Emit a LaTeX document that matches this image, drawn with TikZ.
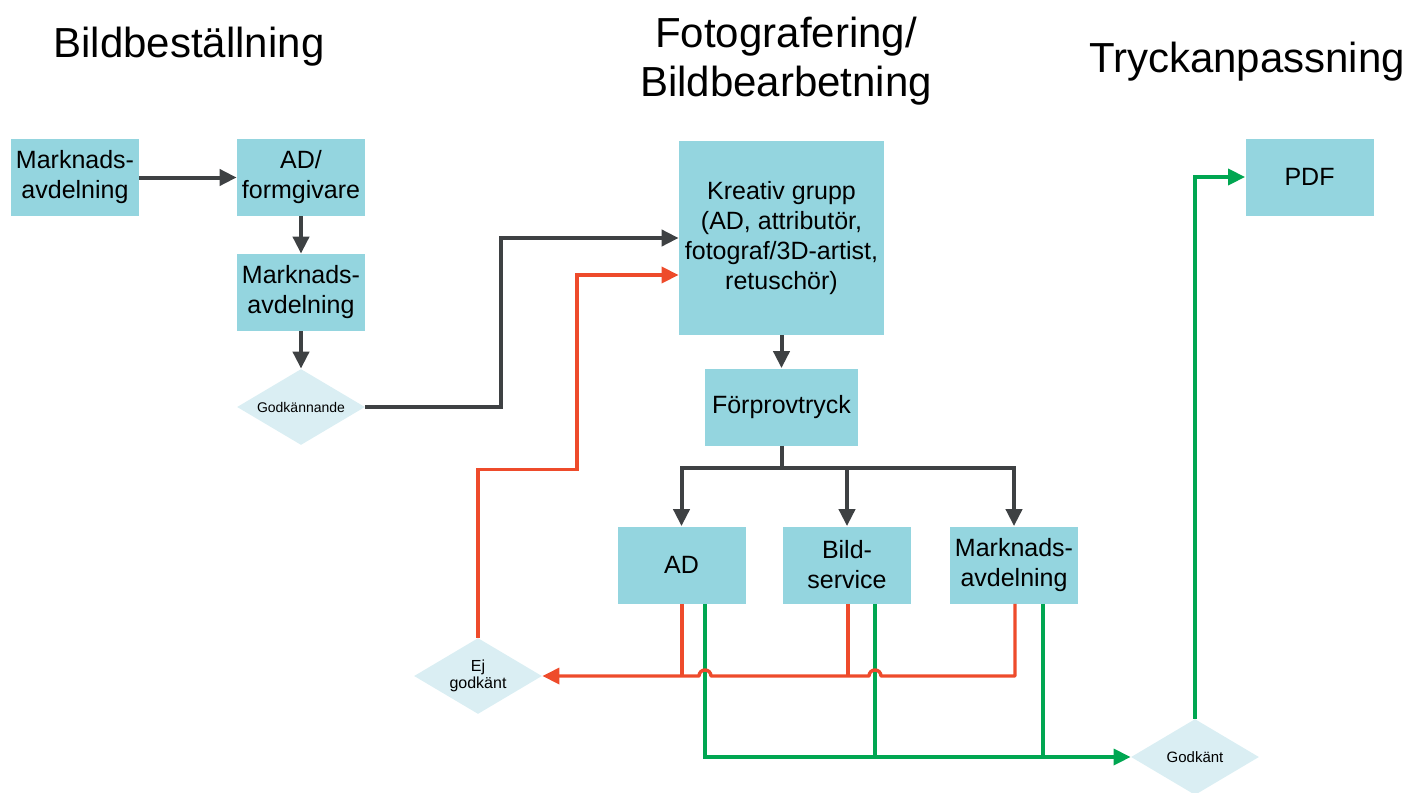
\documentclass[tikz,border=0pt]{standalone}
\usepackage{fontspec}
\setmainfont{Liberation Sans}
\usetikzlibrary{shapes.geometric,arrows.meta,calc}
\definecolor{boxfill}{HTML}{94D5DF}
\definecolor{decfill}{HTML}{DAEEF3}
\definecolor{lnk}{HTML}{3E4143}
\definecolor{rej}{HTML}{EE4B2B}
\definecolor{acc}{HTML}{00A651}

\begin{document}
\begin{tikzpicture}[x=0.5pt,y=-0.5pt,
  box/.style={fill=boxfill, draw=none, inner sep=0pt, minimum width=64pt,
    minimum height=38.5pt, align=center, font=\fontsize{12.5}{15}\selectfont},
  dec/.style={diamond, fill=decfill, draw=none, inner sep=0pt, shape aspect=2.2,
    minimum width=64pt, minimum height=38pt, align=center},
  heading/.style={font=\fontsize{21}{24.5}\selectfont, align=center, inner sep=0pt},
  tip/.style={-{Triangle[length=8.5pt,width=8pt]}},
  darkline/.style={line width=2pt, draw=lnk},
  redline/.style={line width=1.7pt, draw=rej},
  grnline/.style={line width=1.7pt, draw=acc},
]
\useasboundingbox (0,0) rectangle (1416,792);

% column headings
\node[heading, anchor=base] (h1) at (189,58) {Bildbeställning};
\node[heading, anchor=north] (h2) at (786,17) {Fotografering/\\Bildbearbetning};
\node[heading, anchor=base] (h3) at (1247,73) {Tryckanpassning};

% ordering column
\node[box] (mk1) at (75,177.5) {Marknads-\\avdelning};
\node[box] (adf) at (301,177.5) {AD/\\formgivare};
\node[box] (mk2) at (301,292.5) {Marknads-\\avdelning};
\node[dec, font=\fontsize{7}{8}\selectfont] (gdk) at (301,407) {Godkännande};

% photo / retouch column
\node[box, minimum width=102.5pt, minimum height=97pt] (kre) at (781.5,238)
  {Kreativ grupp\\(AD, attributör,\\fotograf/3D-artist,\\retuschör)};
\node[box, minimum width=76.5pt] (fpt) at (781.5,407) {Förprovtryck};
\node[box] (ad) at (681.5,565) {AD};
\node[box] (bsv) at (847,565) {Bild-\\service};
\node[box] (mk3) at (1014,565) {Marknads-\\avdelning};
\node[dec, font=\fontsize{8}{8.5}\selectfont] (ejg) at (478,676) {Ej\\godkänt};

% print column
\node[box] (pdf) at (1309.5,177) {PDF};
\node[dec, font=\fontsize{7.5}{8}\selectfont] (gkt) at (1195,757) {Godkänt};

\coordinate (split) at (781.5,468);

% main flow
\draw[darkline, tip] (mk1) -- (adf);
\draw[darkline, tip] (adf) -- (mk2);
\draw[darkline, tip] (mk2) -- (gdk);
\draw[darkline, tip] (gdk.east) -- ++(136,0) |- (kre.west);
\draw[darkline, tip] (kre) -- (fpt);
\draw[darkline] (fpt.south) -- (split);
\draw[darkline, tip] (split) -| (ad.north);
\draw[darkline, tip] (split) -| (bsv.north);
\draw[darkline, tip] (split) -| (mk3.north);

% approved branch
\draw[grnline, tip] ($(ad.south)+(23.5,0)$) |- (gkt.west);
\draw[grnline] ($(bsv.south)+(28,0)$) -- ($(bsv.south |- gkt.west)+(28,0)$);
\draw[grnline] ($(mk3.south)+(29,0)$) -- ($(mk3.south |- gkt.west)+(29,0)$);
\draw[grnline, tip] (gkt.north) |- (pdf.west);

% rejected branch, hopping over the green lines
\draw[redline] ($(ad.south)+(0.5,0)$) -- ($(ad.south |- ejg.east)+(0.5,0)$);
\draw[redline] ($(bsv.south)+(1,0)$) -- ($(bsv.south |- ejg.east)+(1,0)$);
\draw[redline, tip, line join=round] ($(mk3.south)+(1,0)$) |- ($(bsv.south |- ejg.east)+(34,0)$)
  arc[start angle=0, end angle=-180, radius=6]
  -- ($(ad.south |- ejg.east)+(29.5,0)$)
  arc[start angle=0, end angle=-180, radius=6]
  -- (ejg.east);
\draw[redline, tip] (ejg.north) -- ++(0,-168) -- ++(99,0) |- ($(kre.west)+(0,37)$);
\end{tikzpicture}
\end{document}
